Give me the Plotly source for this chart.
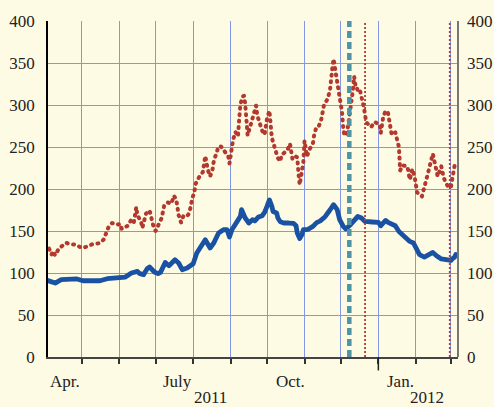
import plotly.graph_objects as go

# ---------------- data ----------------
blue_dates = [
    "2011-04-02", "2011-04-03", "2011-04-09", "2011-04-14", "2011-04-27", "2011-05-02",
    "2011-05-16", "2011-05-22", "2011-05-31", "2011-06-06", "2011-06-11", "2011-06-16",
    "2011-06-18", "2011-06-21", "2011-06-24", "2011-06-26", "2011-06-30", "2011-07-03",
    "2011-07-05", "2011-07-07", "2011-07-09", "2011-07-12", "2011-07-17", "2011-07-20",
    "2011-07-23", "2011-07-27", "2011-07-31", "2011-08-01", "2011-08-04", "2011-08-08",
    "2011-08-11", "2011-08-15", "2011-08-18", "2011-08-22", "2011-08-26", "2011-08-29",
    "2011-08-31", "2011-09-02", "2011-09-06", "2011-09-09", "2011-09-10", "2011-09-13",
    "2011-09-16", "2011-09-19", "2011-09-21", "2011-09-24", "2011-09-27", "2011-09-29",
    "2011-10-01", "2011-10-03", "2011-10-05", "2011-10-06", "2011-10-09", "2011-10-10",
    "2011-10-12", "2011-10-15", "2011-10-19", "2011-10-23", "2011-10-25", "2011-10-26",
    "2011-10-28", "2011-10-30", "2011-10-31", "2011-11-04", "2011-11-08", "2011-11-11",
    "2011-11-14", "2011-11-18", "2011-11-22", "2011-11-25", "2011-11-28", "2011-11-30",
    "2011-12-03", "2011-12-05", "2011-12-09", "2011-12-13", "2011-12-15", "2011-12-18",
    "2011-12-21", "2011-12-27", "2012-01-01", "2012-01-03", "2012-01-07", "2012-01-09",
    "2012-01-12", "2012-01-15", "2012-01-18", "2012-01-21", "2012-01-25", "2012-01-27",
    "2012-01-30", "2012-02-02", "2012-02-04", "2012-02-08", "2012-02-13", "2012-02-15",
    "2012-02-18", "2012-02-22", "2012-02-26", "2012-03-01", "2012-03-02", "2012-03-04",
    "2012-03-05",
]
blue_values = [
    91.5, 90.8, 88, 92, 92.9, 90.8,
    90.8, 93.2, 94, 95.2, 100, 101.9,
    99.2, 98, 105, 107.1, 101.2, 99.2,
    100.7, 105.9, 112.6, 108.7, 115.8, 111.9,
    103.9, 105.9, 109.9, 111, 123.8, 131.7,
    139.6, 129.8, 135.7, 147.6, 151.5, 151.5,
    142.9, 151.5, 161.4, 167.4, 175.4, 165.5,
    159.5, 163.5, 162, 166.7, 168.2, 172.1,
    179.3, 187, 179.3, 173.3, 171.4, 165.5,
    161, 159.5, 159.5, 159, 156.3, 147.6,
    141, 146, 151.5, 152, 155.5, 160,
    162, 167, 175, 181.3, 175.4, 163.5,
    155.5, 152.4, 157.5, 163.5, 167.4, 165.5,
    161.4, 160.7, 160.2, 156.3, 162.6, 160.2,
    157.5, 156.3, 149.5, 145.6, 141.7, 137.6,
    135.7, 125.7, 121.8, 119, 123, 124.5,
    120.6, 116.7, 115.8, 115, 116.7, 119,
    122,
]

red_dates = [
    "2011-04-04", "2011-04-06", "2011-04-07", "2011-04-09", "2011-04-12", "2011-04-15",
    "2011-04-18", "2011-04-21", "2011-04-26", "2011-05-01", "2011-05-06", "2011-05-10",
    "2011-05-15", "2011-05-19", "2011-05-21", "2011-05-23", "2011-05-26", "2011-05-30",
    "2011-06-02", "2011-06-03", "2011-06-08", "2011-06-11", "2011-06-13", "2011-06-15",
    "2011-06-16", "2011-06-19", "2011-06-20", "2011-06-23", "2011-06-26", "2011-06-29",
    "2011-07-01", "2011-07-04", "2011-07-06", "2011-07-08", "2011-07-11", "2011-07-14",
    "2011-07-16", "2011-07-18", "2011-07-19", "2011-07-20", "2011-07-22", "2011-07-24",
    "2011-07-26", "2011-07-28", "2011-07-30", "2011-07-31", "2011-08-02", "2011-08-03",
    "2011-08-06", "2011-08-09", "2011-08-10", "2011-08-11", "2011-08-12", "2011-08-13",
    "2011-08-15", "2011-08-17", "2011-08-18", "2011-08-20", "2011-08-22", "2011-08-24",
    "2011-08-27", "2011-08-30", "2011-08-31", "2011-09-01", "2011-09-03", "2011-09-05",
    "2011-09-07", "2011-09-08", "2011-09-09", "2011-09-11", "2011-09-12", "2011-09-13",
    "2011-09-14", "2011-09-15", "2011-09-17", "2011-09-19", "2011-09-22", "2011-09-23",
    "2011-09-25", "2011-09-27", "2011-09-29", "2011-09-30", "2011-10-01", "2011-10-03",
    "2011-10-04", "2011-10-05", "2011-10-08", "2011-10-10", "2011-10-12", "2011-10-13",
    "2011-10-15", "2011-10-18", "2011-10-20", "2011-10-22", "2011-10-24", "2011-10-26",
    "2011-10-27", "2011-10-28", "2011-10-29", "2011-10-31", "2011-11-01", "2011-11-02",
    "2011-11-03", "2011-11-05", "2011-11-08", "2011-11-09", "2011-11-11", "2011-11-13",
    "2011-11-15", "2011-11-17", "2011-11-20", "2011-11-22", "2011-11-23", "2011-11-24",
    "2011-11-25", "2011-11-26", "2011-11-27", "2011-11-28", "2011-11-30", "2011-12-02",
    "2011-12-03", "2011-12-04", "2011-12-06", "2011-12-07", "2011-12-09", "2011-12-11",
    "2011-12-12", "2011-12-13", "2011-12-14", "2011-12-15", "2011-12-17", "2011-12-20",
    "2011-12-22", "2011-12-26", "2011-12-29", "2012-01-02", "2012-01-03", "2012-01-05",
    "2012-01-07", "2012-01-09", "2012-01-11", "2012-01-12", "2012-01-15", "2012-01-18",
    "2012-01-19", "2012-01-21", "2012-01-25", "2012-01-27", "2012-01-29", "2012-01-31",
    "2012-02-02", "2012-02-06", "2012-02-11", "2012-02-15", "2012-02-19", "2012-02-20",
    "2012-02-22", "2012-02-24", "2012-02-28", "2012-03-01", "2012-03-04", "2012-03-06",
]
red_values = [
    129, 122, 126, 121, 129, 132,
    136, 134.5, 133.7, 129.8, 131.7, 134.5,
    135.3, 139.6, 148.8, 154.3, 159.5, 157.5,
    158.3, 152.4, 156.3, 163.5, 160, 178.6,
    168.6, 161, 153.6, 170.6, 174.5, 156.7,
    150, 158.7, 165.5, 180, 184, 182.5,
    192, 188, 178, 169, 160.2, 168.2,
    167.4, 169.4, 178.6, 187.5, 196.4, 206,
    214.3, 220.2, 229.8, 239.3, 232, 223.3,
    215, 223.3, 232.9, 242, 250.7, 250.7,
    245.6, 238.8, 230.5, 240.5, 258.7, 267.8,
    262.6, 282.5, 300.7, 310.2, 311, 301.5,
    282.5, 263.8, 273.8, 283.3, 299.2, 287.3,
    278.1, 269.4, 264.6, 274.2, 283.7, 293.2,
    280, 261, 246, 236.9, 232.9, 240.8,
    242.8, 246.8, 253.9, 236, 239.6, 237.6,
    219, 205, 213.8, 232, 257.5, 250.7,
    238.8, 246.8, 254.8, 264.6, 274.5, 275.4,
    283.7, 299.5, 307.1, 317.4, 334.9, 344,
    354.8, 346, 337.3, 328.1, 309, 291.2,
    272.6, 263.5, 265.5, 274.5, 296.4, 318.2,
    334, 324.2, 324.2, 315, 316.2, 297.6,
    279.3, 273.8, 279.8, 276.5, 266.7, 285.7,
    293.2, 290.5, 272.6, 264.6, 267.4, 250,
    222.1, 228.1, 226.9, 211, 223.8, 214.3,
    196, 191.2, 219, 242, 215, 218.2,
    226.9, 213.1, 201.2, 203.1, 228.1, 224,
]

y_ticks = [0, 50, 100, 150, 200, 250, 300, 350, 400]
month_labels = ["Apr.", "July", "Oct.", "Jan."]
month_label_dates = ["2011-04-17", "2011-07-19", "2011-10-20", "2012-01-19"]
year_labels = ["2011", "2012"]
year_label_dates = ["2011-08-15", "2012-02-10"]
dashed_event_dates = ["2011-12-08"]
dotted_event_dates = ["2011-12-21", "2012-02-29"]
year_boundary_dates = ["2012-01-01"]

# ---------------- style ----------------
BG = "#fefbe4"
GRID = "#8497e6"
FONT = "Liberation Serif, Times New Roman, serif"
BLUE = "#1a52a3"
RED = "#b3392e"
TEAL = "#4f93a4"
TXT = "#222"

fig = go.Figure()
fig.add_trace(go.Scatter(
    x=red_dates, y=red_values, mode="lines",
    line=dict(color=RED, width=4, dash="1px,5.5px"),
    showlegend=False, hoverinfo="skip",
))
fig.add_trace(go.Scatter(
    x=blue_dates, y=blue_values, mode="lines",
    line=dict(color=BLUE, width=4.8),
    showlegend=False, hoverinfo="skip",
))

shapes = []
for d in dashed_event_dates:
    shapes.append(dict(type="line", xref="x", yref="paper", x0=d, x1=d, y0=0, y1=1,
                       line=dict(color=TEAL, width=4.5, dash="7px,4px"), layer="above"))
for d in dotted_event_dates:
    shapes.append(dict(type="line", xref="x", yref="paper", x0=d, x1=d, y0=0, y1=1,
                       line=dict(color=RED, width=1.8, dash="2px,2px"), layer="above"))
for d in year_boundary_dates:
    shapes.append(dict(type="line", xref="x", yref="paper", x0=d, x1=d, y0=0, y1=-0.04,
                       line=dict(color="#222", width=1.5), layer="above"))
# right-hand axis line
shapes.append(dict(type="line", xref="paper", yref="paper", x0=1, x1=1, y0=0, y1=1,
                   line=dict(color="#777", width=2), layer="above"))

annotations = []
for t, d in zip(month_labels, month_label_dates):
    annotations.append(dict(text=t, x=d, xref="x", y=-0.072, yref="paper",
                            showarrow=False, xanchor="center", yanchor="middle",
                            font=dict(family=FONT, size=17, color=TXT)))
for t, d in zip(year_labels, year_label_dates):
    annotations.append(dict(text=t, x=d, xref="x", y=-0.12, yref="paper",
                            showarrow=False, xanchor="center", yanchor="middle",
                            font=dict(family=FONT, size=17, color=TXT)))
# right-hand tick labels
for v in y_ticks:
    annotations.append(dict(text=str(v), x=1, xref="paper", y=v, yref="y",
                            xshift=7, showarrow=False, xanchor="left", yanchor="middle",
                            font=dict(family=FONT, size=17, color=TXT)))

fig.update_layout(
    width=494, height=407,
    margin=dict(l=48, r=36, t=21, b=50, autoexpand=False),
    paper_bgcolor=BG, plot_bgcolor=BG,
    showlegend=False,
    shapes=shapes, annotations=annotations,
    xaxis=dict(
        type="date", range=["2011-04-03 02:00", "2012-03-06 19:00"],
        showgrid=True, gridcolor=GRID, gridwidth=1,
        tick0="2011-04-01", dtick="M1",
        showticklabels=False, ticks="outside", ticklen=5, tickwidth=1.5, tickcolor="#333",
        showline=True, linecolor="#444", linewidth=1.5, zeroline=False, automargin=False,
    ),
    yaxis=dict(
        range=[0, 400], tickmode="array", tickvals=y_ticks, showgrid=True,
        gridcolor=GRID, gridwidth=1,
        zeroline=False, showline=True, linecolor="#000", linewidth=1.5,
        ticks="outside", ticklen=8, tickcolor="rgba(0,0,0,0)",
        tickfont=dict(family=FONT, size=17, color=TXT), automargin=False,
    ),
)

post = (
    "document.body.style.margin='0';"
    "document.body.style.background='" + BG + "';"
    "var st=document.createElement('style');"
    "st.textContent='.gridlayer path{shape-rendering:crispEdges !important;}"
    ".scatterlayer .js-line{stroke-linecap:round !important;stroke-linejoin:round !important;}';"
    "document.head.appendChild(st);"
)

fig.write_html(
    "out.html",
    config={"displayModeBar": False},
    post_script=post,
)
